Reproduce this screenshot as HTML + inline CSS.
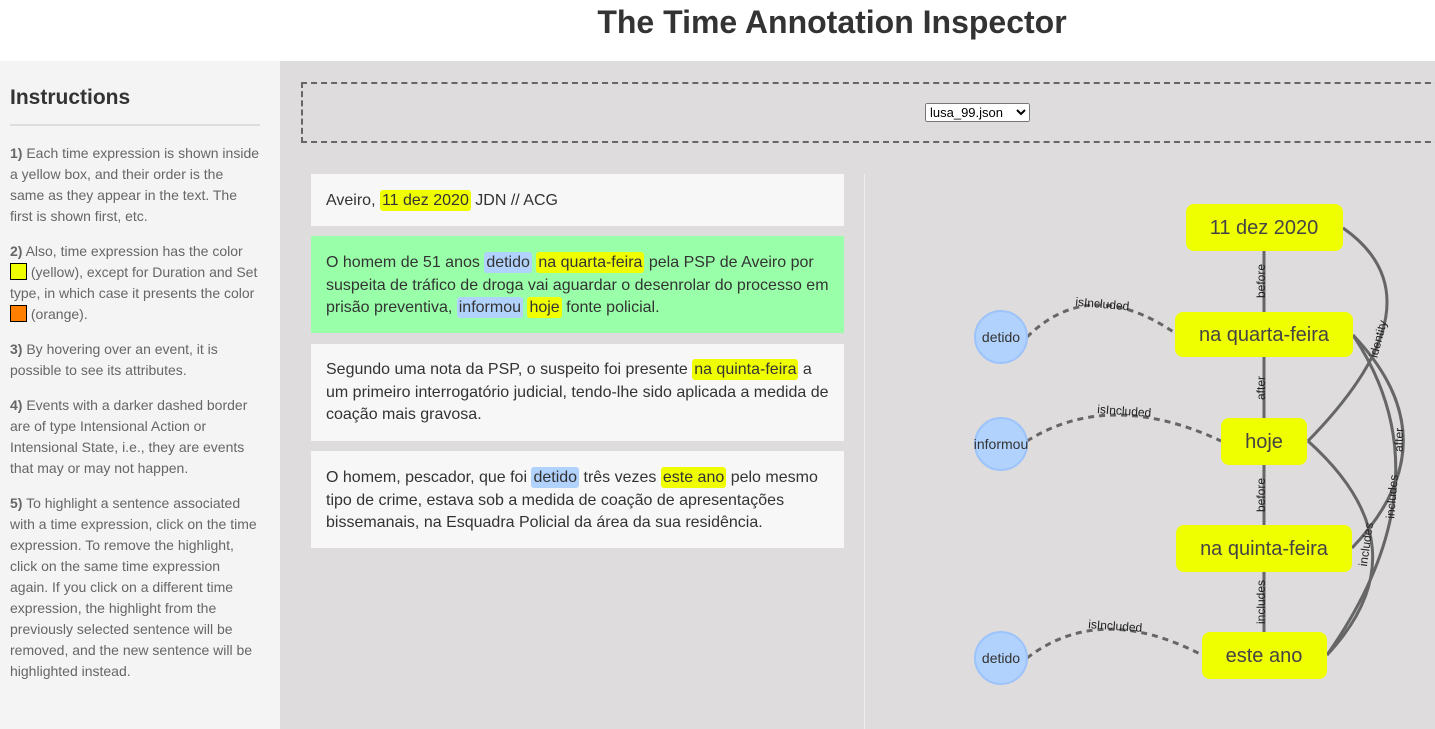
<!DOCTYPE html>
<html><head><meta charset="utf-8"><style>
*{margin:0;padding:0;box-sizing:border-box}
body{width:1435px;height:729px;overflow:hidden;font-family:"Liberation Sans",sans-serif;background:#dedcdc;position:relative;color:#333}
#hdr{position:absolute;left:0;top:0;width:1435px;height:61px;background:#fff}
#hdr h1{position:absolute;left:0;width:1664px;text-align:center;top:4px;font-size:32px;font-weight:bold;color:#333}
#side{position:absolute;left:0;top:61px;width:280px;height:668px;background:#f4f4f4;padding:0 20px 0 10px}
#side h2{font-size:21px;margin-top:25px;color:#333}
#side hr{border:0;border-top:2px solid #ddd;margin:14px 0 17px 0}
#side p{font-size:14px;line-height:21px;color:#666;margin-bottom:14px}
#side b{color:#666}
.sq{display:inline-block;width:17px;height:17px;border:1px solid #000;vertical-align:-3px}
#dbox{position:absolute;left:301px;top:82px;width:1160px;height:61px;border:2px dashed #666}
select{position:absolute;left:925px;top:103px;width:105px;height:19px;font-size:13px;font-family:"Liberation Sans",sans-serif}
.card{position:absolute;left:311px;width:533px;background:#f7f7f7;padding:0 15px;font-size:16px;line-height:22.5px;color:#333}
.t{background:#f0ff00;border-radius:3px;padding:2px 2px}
.e{background:#b1d2fc;border-radius:3px;padding:2px 2px}
#sep{position:absolute;left:864px;top:174px;width:1px;height:555px;background:#eee}
</style></head><body>
<div id="hdr"><h1>The Time Annotation Inspector</h1></div>
<div id="side">
<h2>Instructions</h2><hr>
<p><b>1)</b> Each time expression is shown inside a yellow box, and their order is the same as they appear in the text. The first is shown first, etc.</p>
<p><b>2)</b> Also, time expression has the color <span class="sq" style="background:#f0ff00"></span> (yellow), except for Duration and Set type, in which case it presents the color <span class="sq" style="background:#ff8000"></span> (orange).</p>
<p><b>3)</b> By hovering over an event, it is possible to see its attributes.</p>
<p><b>4)</b> Events with a darker dashed border are of type Intensional Action or Intensional State, i.e., they are events that may or may not happen.</p>
<p><b>5)</b> To highlight a sentence associated with a time expression, click on the time expression. To remove the highlight, click on the same time expression again. If you click on a different time expression, the highlight from the previously selected sentence will be removed, and the new sentence will be highlighted instead.</p>
</div>
<div id="dbox"></div>
<select><option>lusa_99.json</option></select>
<div class="card" style="top:174px;height:52px;padding-top:16px">Aveiro, <span class="t">11 dez 2020</span> JDN // ACG</div>
<div class="card" style="top:236px;height:97px;padding-top:16px;background:#99ffa8">O homem de 51 anos <span class="e">detido</span> <span class="t">na quarta-feira</span> pela PSP de Aveiro por suspeita de tráfico de droga vai aguardar o desenrolar do processo em prisão preventiva, <span class="e">informou</span> <span class="t">hoje</span> fonte policial.</div>
<div class="card" style="top:344px;height:97px;padding-top:15px">Segundo uma nota da PSP, o suspeito foi presente <span class="t">na quinta-feira</span> a um primeiro interrogatório judicial, tendo-lhe sido aplicada a medida de coação mais gravosa.</div>
<div class="card" style="top:451px;height:97px;padding-top:16px">O homem, pescador, que foi <span class="e">detido</span> três vezes <span class="t">este ano</span> pelo mesmo tipo de crime, estava sob a medida de coação de apresentações bissemanais, na Esquadra Policial da área da sua residência.</div>
<div id="sep"></div>
<svg style="position:absolute;left:0;top:0" width="1435" height="729" font-family="Liberation Sans, sans-serif">
<g stroke="#666" stroke-width="3" fill="none">
<line x1="1264" y1="250" x2="1264" y2="314"/>
<line x1="1264" y1="356" x2="1264" y2="420"/>
<line x1="1264" y1="463" x2="1264" y2="527"/>
<line x1="1264" y1="570" x2="1264" y2="634"/>
<path d="M1343 228 Q1446 300 1308 441"/>
<path d="M1353 335 Q1454 441 1352 548"/>
<path d="M1353 335 Q1450 480 1327 655"/>
<path d="M1308 441 Q1427 548 1327 655"/>
<g stroke-dasharray="6,5">
<path d="M1027 337 Q1090 275 1175 333"/>
<path d="M1027 441 Q1110 389 1221 441"/>
<path d="M1027 658 Q1100 602 1202 655"/>
</g></g>
<g font-size="12" fill="#222">
<text transform="translate(1265,281) rotate(-90)" text-anchor="middle">before</text>
<text transform="translate(1265,388) rotate(-90)" text-anchor="middle">after</text>
<text transform="translate(1265,495) rotate(-90)" text-anchor="middle">before</text>
<text transform="translate(1265,602) rotate(-90)" text-anchor="middle">includes</text>
<text transform="translate(1382,340) rotate(-75)" text-anchor="middle">identity</text>
<text transform="translate(1403,440) rotate(-88)" text-anchor="middle">after</text>
<text transform="translate(1396,497) rotate(-85)" text-anchor="middle">includes</text>
<text transform="translate(1370,545) rotate(-82)" text-anchor="middle">includes</text>
<text x="1102" y="308" text-anchor="middle" transform="rotate(5 1102 308)">isIncluded</text>
<text x="1124" y="415" text-anchor="middle" transform="rotate(4 1124 415)">isIncluded</text>
<text x="1115" y="630" text-anchor="middle" transform="rotate(4 1115 630)">isIncluded</text>
</g>
<g fill="#f0ff00">
<rect x="1186" y="204" width="157" height="47" rx="8"/>
<rect x="1175" y="312" width="178" height="45" rx="8"/>
<rect x="1221" y="418" width="86" height="47" rx="8"/>
<rect x="1176" y="525" width="176" height="47" rx="8"/>
<rect x="1202" y="632" width="125" height="47" rx="8"/>
</g>
<g font-size="20" fill="#444" text-anchor="middle">
<text x="1264" y="234">11 dez 2020</text>
<text x="1264" y="341">na quarta-feira</text>
<text x="1264" y="448">hoje</text>
<text x="1264" y="555">na quinta-feira</text>
<text x="1264" y="662">este ano</text>
</g>
<g fill="#b1d2fc" stroke="#9cc3fb" stroke-width="2">
<circle cx="1001" cy="337" r="26"/><circle cx="1001" cy="444" r="26"/><circle cx="1001" cy="658" r="26"/>
</g>
<g font-size="14" fill="#333" text-anchor="middle">
<text x="1001" y="342">detido</text><text x="1001" y="449">informou</text><text x="1001" y="663">detido</text>
</g>
</svg>
</body></html>
